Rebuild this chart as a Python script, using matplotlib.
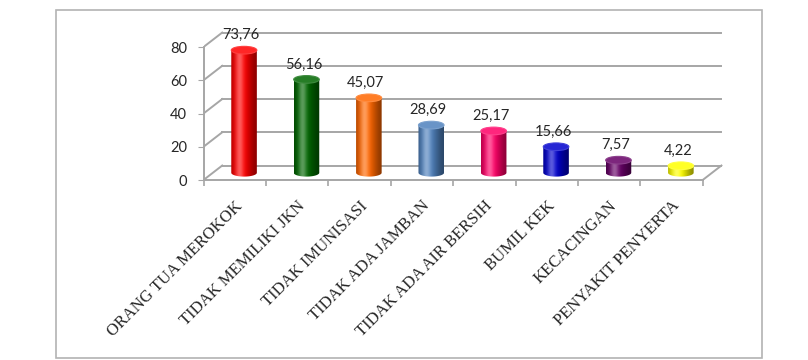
import numpy as np
import matplotlib
matplotlib.use("Agg")
import matplotlib.pyplot as plt
import matplotlib.colors as mcolors
from matplotlib.patches import Ellipse, Polygon, Rectangle

categories = [
    "ORANG TUA MEROKOK",
    "TIDAK MEMILIKI JKN",
    "TIDAK IMUNISASI",
    "TIDAK ADA JAMBAN",
    "TIDAK ADA AIR BERSIH",
    "BUMIL KEK",
    "KECACINGAN",
    "PENYAKIT PENYERTA",
]
values = [73.76, 56.16, 45.07, 28.69, 25.17, 15.66, 7.57, 4.22]
bar_colors = ["#ff0000", "#006600", "#ff6600", "#4f81bd",
              "#ff0066", "#0000cc", "#660066", "#ffff00"]
y_ticks = [0, 20, 40, 60, 80]

GRID = "#a6a6a6"
TEXT = "#262626"

# fake 3d: depth offset of back wall (x in categories, y in data units)
dx, dy = 0.30, 8.7
bar_w = 0.41
ell_h = 4.6


def shade(color, n=60):
    base = np.array(mcolors.to_rgb(color))
    t = np.linspace(0, 1, n)
    dark = 0.55 + 0.45 * np.cos((t - 0.38) * np.pi / 1.35) ** 2
    light = 0.35 * np.exp(-((t - 0.33) / 0.16) ** 2)
    rgb = base[None, :] * dark[:, None]
    rgb = rgb + (1 - rgb) * light[:, None]
    return np.clip(rgb, 0, 1)


def cylinder(ax, cx, base, top, color):
    x0, x1 = cx - bar_w / 2, cx + bar_w / 2
    th = np.linspace(np.pi, 2 * np.pi, 50)
    bx = cx + bar_w / 2 * np.cos(th)
    by = base + ell_h / 2 * np.sin(th)
    verts = [(x0, top)] + list(zip(bx, by)) + [(x1, top)]
    body = Polygon(verts, closed=True, facecolor="none", edgecolor="none",
                   transform=ax.transData)
    ax.add_patch(body)
    img = ax.imshow(shade(color)[None, :, :], extent=(x0, x1, base - ell_h / 2, top),
                    aspect="auto", interpolation="bilinear", zorder=3)
    img.set_clip_path(body)
    base_rgb = np.array(mcolors.to_rgb(color))
    top_rgb = base_rgb * 0.85 + 0.15
    ax.add_patch(Ellipse((cx, top), bar_w, ell_h, facecolor=top_rgb,
                         edgecolor=base_rgb * 0.75 + 0.25, lw=0.8, zorder=4))


fig = plt.figure(figsize=(8.08, 3.60), dpi=100)
ax = fig.add_axes([203.5 / 808, 180 / 360, 530.4 / 808, 149.6 / 360])

n = len(categories)
# back wall gridlines and side wall diagonals
for v in y_ticks:
    ax.plot([-0.5 + dx, n - 0.5 + dx], [v + dy, v + dy], color=GRID, lw=1.4, zorder=1)
    ax.plot([-0.5, -0.5 + dx], [v, v + dy], color=GRID, lw=1.4, zorder=1)
ax.plot([n - 0.5, n - 0.5 + dx], [0, dy], color=GRID, lw=1.4, zorder=1)

for i, (v, c) in enumerate(zip(values, bar_colors)):
    cx = i + dx / 2
    cylinder(ax, cx, dy / 2, v + dy / 2, c)
    ax.annotate(f"{v:.2f}".replace(".", ","), (i + 0.1, v + dy / 2 + ell_h / 2),
                xytext=(0, 3), textcoords="offset points", ha="center", va="bottom",
                fontsize=10.5, family="Lato", color=TEXT, zorder=5)

ax.set_xlim(-0.5, n - 0.5 + 0.5)
ax.set_ylim(0, 90)

for s in ["top", "right"]:
    ax.spines[s].set_visible(False)
ax.spines["left"].set_bounds(0, 80)
ax.spines["bottom"].set_bounds(-0.5, n - 0.5)
for s in ["left", "bottom"]:
    ax.spines[s].set_color(GRID)
    ax.spines[s].set_linewidth(1.4)

ax.set_yticks(y_ticks)
ax.set_yticklabels([str(t) for t in y_ticks], fontsize=10.5, family="Lato", color=TEXT)
ax.tick_params(axis="y", length=4, color=GRID, pad=8)

ax.set_xticks(range(n))
ax.set_xticklabels(categories, rotation=45, ha="right", rotation_mode="anchor",
                   fontsize=12, family="Liberation Serif", color=TEXT)
ax.set_xticks(np.arange(-0.5, n, 1), minor=True)
ax.tick_params(axis="x", which="major", length=0, pad=13)
ax.tick_params(axis="x", which="minor", length=4, color=GRID, width=1.2)

fig.add_artist(Rectangle((56 / 808, 2 / 360), 706 / 808, 348 / 360,
                         transform=fig.transFigure, fill=False,
                         edgecolor="#b3b3b3", lw=1.2))

fig.savefig("out.png", dpi=100)
